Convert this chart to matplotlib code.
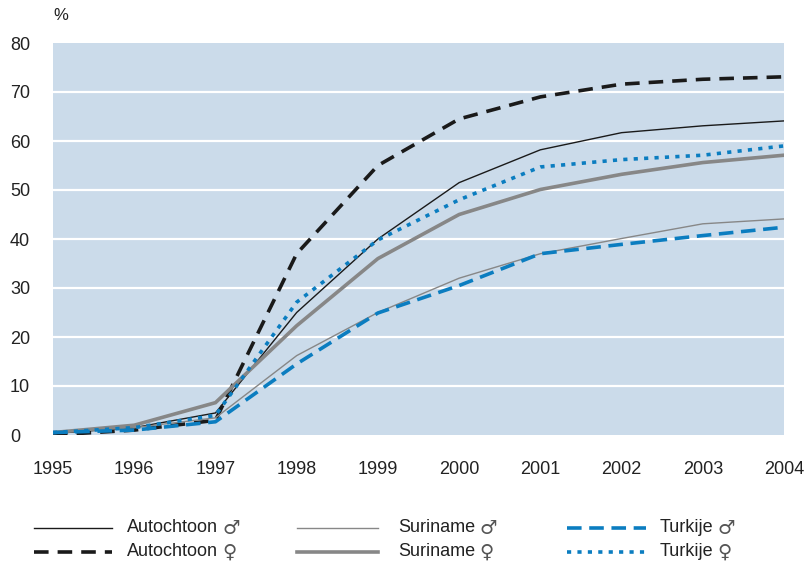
import matplotlib
matplotlib.use("Agg")
import matplotlib.pyplot as plt
from matplotlib.lines import Line2D

# =====================================================
# DATA
# =====================================================

years = [1995, 1996, 1997, 1998, 1999, 2000, 2001, 2002, 2003, 2004]

autochtoon_m = [0.3, 1.5, 4.5, 25.0, 40.0, 51.5, 58.2, 61.7, 63.1, 64.1]
autochtoon_v = [0.0, 1.0, 3.0, 37.0, 55.0, 64.5, 69.0, 71.6, 72.6, 73.1]
suriname_m = [0.5, 1.5, 3.5, 16.2, 25.0, 32.0, 37.0, 40.1, 43.1, 44.1]
suriname_v = [0.5, 2.0, 6.6, 22.3, 36.0, 45.0, 50.1, 53.2, 55.6, 57.1]
turkije_m = [0.5, 1.0, 2.7, 14.5, 24.9, 30.5, 37.0, 38.9, 40.7, 42.4]
turkije_v = [0.5, 1.5, 4.0, 27.1, 39.8, 48.0, 54.7, 56.2, 57.1, 59.0]

groups = ["Autochtoon", "Autochtoon", "Suriname",
          "Suriname", "Turkije", "Turkije"]
genders = ["♂", "♀", "♂", "♀", "♂", "♀"]

yticks = [0, 10, 20, 30, 40, 50, 60, 70, 80]

# =====================================================
# STYLE
# =====================================================

plt.rcParams["font.family"] = ["Liberation Sans", "DejaVu Sans"]
plt.rcParams["lines.scale_dashes"] = False

W, H = 809, 566
BG = "#cbdbea"
BLUE = "#0b7dc0"
BLACK = "#1a1a1a"
GRAY = "#878787"
TXT = "#222222"

styles = [
    dict(color=BLACK, lw=1.0, ls="-"),
    dict(color=BLACK, lw=2.6, ls=(0, (10.5, 6.5))),
    dict(color=GRAY, lw=1.0, ls="-"),
    dict(color=GRAY, lw=2.6, ls="-"),
    dict(color=BLUE, lw=2.6, ls=(0, (10.5, 5.5))),
    dict(color=BLUE, lw=2.6, ls=(0, (3.0, 4.5))),
]

series = [autochtoon_m, autochtoon_v, suriname_m,
          suriname_v, turkije_m, turkije_v]

fig = plt.figure(figsize=(W / 100, H / 100), dpi=100)
ax = fig.add_axes([53 / W, 1 - 435 / H, (784 - 53) / W, (435 - 43) / H])
ax.set_facecolor(BG)

for vals, st in zip(series, styles):
    ax.plot(years, vals, color=st["color"], lw=st["lw"], ls=st["ls"],
            solid_joinstyle="miter", zorder=3)

ax.set_xlim(1995, 2004)
ax.set_ylim(0, 80)
ax.set_xticks(years)
ax.set_yticks(yticks)
for y in yticks[1:-1]:
    ax.axhline(y, color="white", lw=1.6, zorder=1)

for s in ax.spines.values():
    s.set_visible(False)

ax.tick_params(axis="both", length=0, labelsize=13, colors=TXT)
ax.tick_params(axis="x", pad=19)
ax.tick_params(axis="y", pad=43 * 0.72)
for t in ax.get_yticklabels():
    t.set_horizontalalignment("left")

fig.text(53 / W, 1 - 16 / H, "%", fontsize=12, ha="left", va="center",
         color=TXT)

# =====================================================
# LEGENDA
# =====================================================

cols_x = [(34, 112, 127), (297, 378, 398), (567, 646, 660)]
rows_y = [528, 552]

for i, (grp, sym, st) in enumerate(zip(groups, genders, styles)):
    c = cols_x[i // 2]
    ry = 1 - rows_y[i % 2] / H
    fig.add_artist(Line2D([c[0] / W, c[1] / W], [ry, ry],
                          transform=fig.transFigure, color=st["color"],
                          lw=st["lw"], ls=st["ls"]))
    t = fig.text(c[2] / W, ry, grp, fontsize=13, ha="left", va="center",
                 color=TXT)
    fig.add_artist(plt.Annotation(sym, xy=(1, 0.5), xycoords=t,
                                  xytext=(3, 0), textcoords="offset points",
                                  ha="left", va="center", fontsize=14,
                                  family=["DejaVu Sans"], color="#555555"))

fig.savefig("out.png", dpi=100)
